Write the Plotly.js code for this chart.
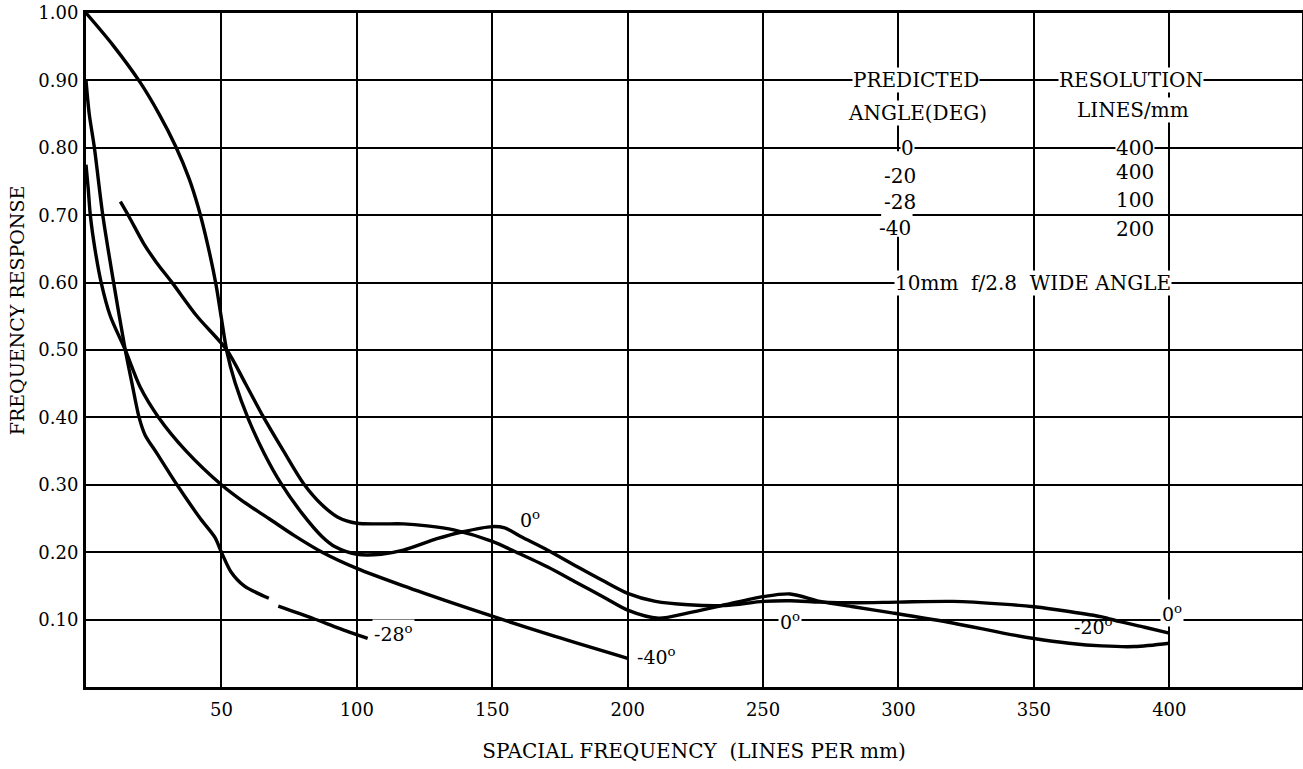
<!DOCTYPE html>
<html>
<head>
<meta charset="utf-8">
<script src="https://cdn.plot.ly/plotly-3.0.1.min.js"></script>
<style>html,body{margin:0;padding:0;background:#fff;}#chart{width:1303px;height:769px;}</style>
</head>
<body>
<div id="chart"></div>
<script>
// ---- data ----
const xTickVals = [50, 100, 150, 200, 250, 300, 350, 400];
const xTickText = ["50", "100", "150", "200", "250", "300", "350", "400"];
const yTickVals = [0.1, 0.2, 0.3, 0.4, 0.5, 0.6, 0.7, 0.8, 0.9, 1.0];
const yTickText = ["0.10", "0.20", "0.30", "0.40", "0.50", "0.60", "0.70", "0.80", "0.90", "1.00"];

const deg0X = [0, 10, 20, 27, 33, 38, 41.5, 45, 48, 50, 52, 55, 60, 66, 72, 79.7, 87.2, 92, 100, 109, 117.2, 129.6, 138.8, 150, 154.6, 160.7, 170.5, 181.6, 191.7, 200, 210.3, 222.4, 236, 250, 260, 271, 283.3, 300, 320, 338.6, 350, 363, 375.1, 381.8, 390.9, 400];
const deg0Y = [1.00, 0.952, 0.897, 0.850, 0.803, 0.755, 0.711, 0.655, 0.597, 0.547, 0.498, 0.452, 0.397, 0.345, 0.302, 0.258, 0.223, 0.208, 0.197, 0.197, 0.203, 0.220, 0.230, 0.238, 0.236, 0.223, 0.203, 0.178, 0.156, 0.139, 0.127, 0.122, 0.121, 0.127, 0.128, 0.126, 0.125, 0.126, 0.127, 0.123, 0.119, 0.112, 0.104, 0.097, 0.0886, 0.080];

const deg20X = [12.7, 16, 21.3, 26, 31.8, 41, 52, 58.9, 65.6, 72.8, 80.3, 87.2, 93, 100, 109, 117.2, 126, 135.8, 150, 159.4, 170.5, 181.6, 191.7, 200, 211.4, 222.4, 236, 250, 260, 271.1, 283.3, 297.6, 320, 338.6, 350, 363, 375.1, 387.2, 400];
const deg20Y = [0.72, 0.697, 0.658, 0.63, 0.60, 0.55, 0.50, 0.45, 0.40, 0.351, 0.302, 0.270, 0.252, 0.243, 0.242, 0.242, 0.239, 0.233, 0.216, 0.199, 0.178, 0.154, 0.132, 0.114, 0.102, 0.110, 0.122, 0.134, 0.138, 0.127, 0.119, 0.110, 0.095, 0.080, 0.072, 0.065, 0.061, 0.060, 0.065];

const deg28X = [0, 1.2, 3.1, 6.2, 10.2, 14.5, 17, 19.6, 21.8, 26.3, 33.6, 42.2, 47.6, 50, 53.5, 58.4, 67.5, null, 71, 83.7, 93.5, 104];
const deg28Y = [0.90, 0.85, 0.80, 0.70, 0.60, 0.50, 0.45, 0.40, 0.374, 0.346, 0.30, 0.25, 0.222, 0.20, 0.171, 0.15, 0.1316, null, 0.120, 0.102, 0.087, 0.072];

const deg40X = [0, 0.8, 1.6, 3.3, 5.6, 9, 14.5, 20, 26.8, 37, 50, 58.1, 67.5, 76.8, 87.2, 100, 117.2, 135.8, 150, 173.2, 200];
const deg40Y = [0.775, 0.74, 0.70, 0.65, 0.60, 0.55, 0.50, 0.445, 0.40, 0.35, 0.30, 0.275, 0.25, 0.225, 0.20, 0.176, 0.150, 0.124, 0.105, 0.075, 0.0425];

// curve labels
const curveLabelText = ["0<sup>o</sup>", "0<sup>o</sup>", "-20<sup>o</sup>", "0<sup>o</sup>", "-28<sup>o</sup>", "-40<sup>o</sup>"];
const curveLabelX = [164, 260, 372, 401, 113.4, 210.7];
const curveLabelY = [0.250, 0.098, 0.090, 0.110, 0.080, 0.046];
const curveLabelBg = [false, true, false, true, true, false];

// inset table
const tableText = ["PREDICTED", "RESOLUTION", "ANGLE(DEG)", "LINES/mm", "0", "400", "-20", "400", "-28", "100", "-40", "200", "10mm\u00A0 f/2.8\u00A0 WIDE ANGLE"];
const tableX = [306.3, 385.8, 307, 386.5, 303.3, 387.2, 300.4, 387.2, 300.4, 387.2, 298.9, 387.2, 349.6];
const tableY = [0.900, 0.900, 0.852, 0.856, 0.800, 0.800, 0.758, 0.764, 0.720, 0.722, 0.681, 0.680, 0.600];
const tableBg = [true, true, true, true, true, true, false, false, false, false, false, false, true];

// ---- chart ----
const lineStyle = {color: "black", width: 3.4, shape: "spline", smoothing: 0.8};
const traces = [
  {name: "0 deg", x: deg0X, y: deg0Y},
  {name: "-20 deg", x: deg20X, y: deg20Y},
  {name: "-28 deg", x: deg28X, y: deg28Y},
  {name: "-40 deg", x: deg40X, y: deg40Y}
].map(t => Object.assign({type: "scatter", mode: "lines", line: lineStyle, connectgaps: false, hoverinfo: "name+x+y"}, t));

const fam = "DejaVu Serif, serif";
const tickFont = {family: fam, size: 18, color: "black"};
const labelFont = {family: fam, size: 19, color: "black"};
const tableFont = {family: fam, size: 20, color: "black"};
const annotations = [];
curveLabelText.forEach((t, i) => annotations.push({
  x: curveLabelX[i], y: curveLabelY[i], xref: "x", yref: "y", text: t, showarrow: false,
  font: labelFont, bgcolor: curveLabelBg[i] ? "white" : "rgba(0,0,0,0)", borderpad: 1
}));
tableText.forEach((t, i) => annotations.push({
  x: tableX[i], y: tableY[i], xref: "x", yref: "y", text: t, showarrow: false,
  font: tableFont, bgcolor: tableBg[i] ? "white" : "rgba(0,0,0,0)", borderpad: 0
}));
// y axis title (placed where the reference draws it, above the plot's centre)
annotations.push({
  x: -0.0567, y: 0.559, xref: "paper", yref: "paper", xanchor: "center", yanchor: "middle",
  text: "FREQUENCY RESPONSE", textangle: -90, showarrow: false,
  font: {family: fam, size: 19, color: "black"}
});

const layout = {
  width: 1303, height: 769,
  margin: {l: 86, r: 1, t: 13, b: 82},
  paper_bgcolor: "white", plot_bgcolor: "white",
  showlegend: false,
  font: tickFont,
  xaxis: {
    range: [0, 449], tickmode: "array", tickvals: xTickVals, ticktext: xTickText,
    showgrid: true, gridcolor: "black", gridwidth: 2, zeroline: false,
    showline: true, linecolor: "black", linewidth: 3, mirror: true,
    ticks: "", ticklabelstandoff: 4, tickfont: tickFont,
    title: {text: "SPACIAL FREQUENCY\u00A0 (LINES PER mm)", font: {family: fam, size: 20, color: "black"}, standoff: 26}
  },
  yaxis: {
    range: [0, 1.0], tickmode: "array", tickvals: yTickVals, ticktext: yTickText,
    showgrid: true, gridcolor: "black", gridwidth: 2, zeroline: false,
    showline: true, linecolor: "black", linewidth: 3, mirror: true,
    ticks: "", ticklabelstandoff: 1, tickfont: tickFont
  },
  shapes: [
    {type: "rect", xref: "x", yref: "y", x0: 293.6, x1: 305.2, y0: 0.668, y1: 0.795, fillcolor: "white", line: {width: 0}, layer: "above"}
  ],
  annotations: annotations
};

Plotly.newPlot("chart", traces, layout, {displayModeBar: false, staticPlot: true});
</script>
</body>
</html>
